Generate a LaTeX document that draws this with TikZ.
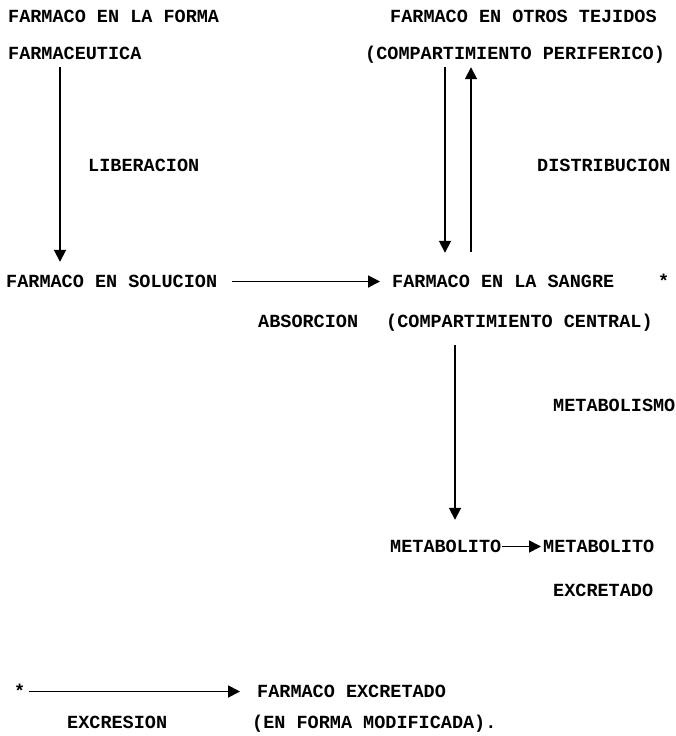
\documentclass[tikz,border=0pt]{standalone}
\usepackage{fontspec}
\setmainfont{Liberation Mono}
\usepackage{tikz}
\usetikzlibrary{arrows.meta,positioning}
\tikzset{
  texto/.style={font=\fontsize{18.5}{20}\selectfont\bfseries, inner sep=0pt,
    text height=11pt, text depth=0pt, anchor=base west},
  flecha/.style={line width=1.8pt, -{Triangle[width=12pt,length=12pt]}}
}

\begin{document}
\begin{tikzpicture}[x=1pt,y=-1pt]
  \useasboundingbox (0,0) rectangle (676,736);
  % filas de texto
  \node[texto] (forma) at (8,22) {FARMACO EN LA FORMA};
  \node[texto] (farmaceutica) at (8,59) {FARMACEUTICA};
  \node[texto] (tejidos) at (390,22) {FARMACO EN OTROS TEJIDOS};
  \node[texto] (periferico) at (365,59) {(COMPARTIMIENTO PERIFERICO)};
  \node[texto] (liberacion) at (88,171) {LIBERACION};
  \node[texto] (distribucion) at (537,171) {DISTRIBUCION};
  \node[texto] (solucion) at (6,287) {FARMACO EN SOLUCION};
  \node[texto] (sangre) at (392,287) {FARMACO EN LA SANGRE};
  \node[texto] (astA) at (658,287) {*};
  \node[texto] (absorcion) at (258,327) {ABSORCION};
  \node[texto] (central) at (386,327) {(COMPARTIMIENTO CENTRAL)};
  \node[texto] (metabolismo) at (553,411) {METABOLISMO};
  \node[texto] (metabolito) at (390,552) {METABOLITO};
  \node[texto] (metexc) at (543,552) {METABOLITO};
  \node[texto] (excretado) at (553,596) {EXCRETADO};
  \node[texto] (astB) at (14,697) {*};
  \node[texto] (farmexc) at (257,697) {FARMACO EXCRETADO};
  \node[texto] (excresion) at (67,728) {EXCRESION};
  \node[texto] (modificada) at (252,728) {(EN FORMA MODIFICADA).};

  % ejes de las flechas verticales
  \coordinate (ejeLib) at (60,0);
  \coordinate (ejeBaja) at (445,0);
  \coordinate (ejeSube) at (471,0);
  \coordinate (ejeMet) at (455,0);

  \draw[flecha, shorten <=8pt, shorten >=14pt] (farmaceutica.south -| ejeLib) -- (solucion.north -| ejeLib);
  \draw[flecha, shorten <=8pt, shorten >=23pt] (periferico.south -| ejeBaja) -- (sangre.north -| ejeBaja);
  \draw[flecha, shorten <=24pt, shorten >=8pt] (sangre.north -| ejeSube) -- (periferico.south -| ejeSube);
  \draw[flecha, shorten <=15pt, shorten >=12pt] (solucion.east) -- (sangre.west);
  \draw[flecha, shorten <=18pt, shorten >=21pt] (central.south -| ejeMet) -- (metabolito.north -| ejeMet);
  \draw[flecha, shorten <=1pt, shorten >=2pt] (metabolito.east) -- (metexc.west);
  \draw[flecha, shorten <=3pt, shorten >=17pt] (astB.east) -- (farmexc.west);
\end{tikzpicture}
\end{document}
